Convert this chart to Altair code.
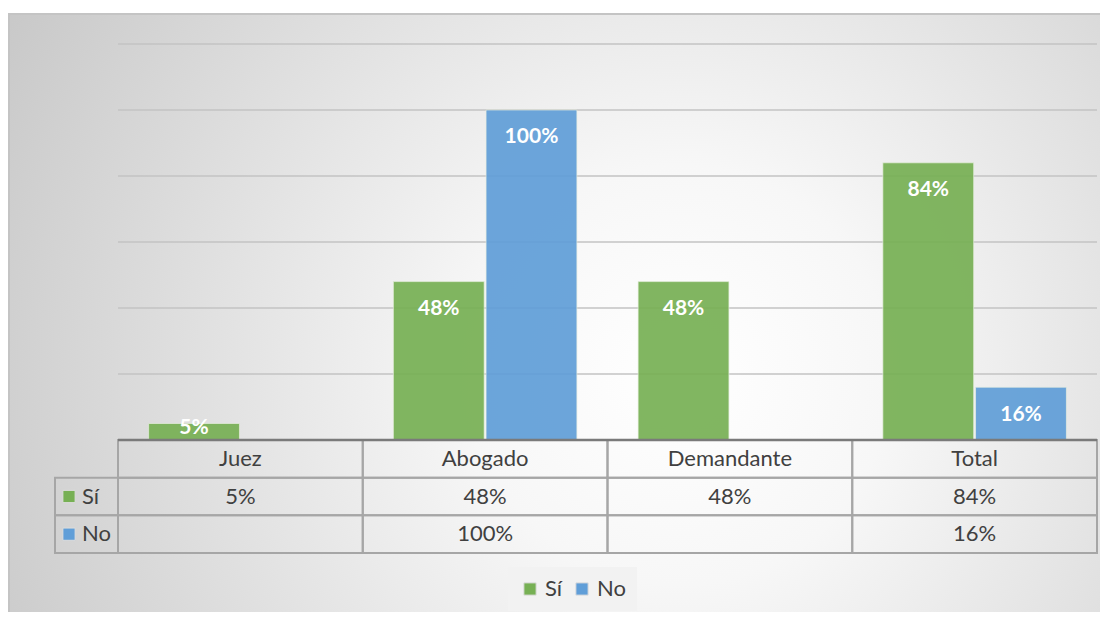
import altair as alt
import pandas as pd

# ---- data ----
categories = ["Juez", "Abogado", "Demandante", "Total"]
si_values = [0.05, 0.48, 0.48, 0.84]
no_values = [None, 1.00, None, 0.16]
series = ["Sí", "No"]
colors = ["#77B054", "#609ED8"]
grid_values = [0.2, 0.4, 0.6, 0.8, 1.0, 1.2]

W, H = 979, 509
FONT = "Lato"

rows = []
for c, s, n in zip(categories, si_values, no_values):
    if s is not None:
        rows.append({"cat": c, "series": "Sí", "value": s})
    if n is not None:
        rows.append({"cat": c, "series": "No", "value": n})
bars_df = pd.DataFrame(rows)

def pct(v):
    return "" if v is None else f"{round(v * 100)}%"

table_rows = []
for c, s, n in zip(categories, si_values, no_values):
    table_rows.append({"cat": c, "row": "h", "text": c})
    table_rows.append({"cat": c, "row": "Sí", "text": pct(s)})
    table_rows.append({"cat": c, "row": "No", "text": pct(n)})
table_df = pd.DataFrame(table_rows)
legend_col_df = pd.DataFrame({"row": series, "series": series})
grid_df = pd.DataFrame({"g": grid_values})
base_df = pd.DataFrame({"g": [0.0]})
bg_df = pd.DataFrame({"a": [1]})

xscale = alt.Scale(domain=categories, paddingInner=0, paddingOuter=0)
yscale = alt.Scale(domain=[0, 1.2], range=[396, 0], nice=False, zero=True)
rowscale = alt.Scale(domain=["h", "Sí", "No"], range=[396, 509], paddingInner=0, paddingOuter=0)
cscale = alt.Scale(domain=series, range=colors)
offscale = alt.Scale(domain=series, paddingInner=0.02, paddingOuter=0.33)

# background with radial gradient
bg = alt.Chart(bg_df).mark_rect(
    fill=alt.Gradient(
        gradient="radial",
        stops=[alt.GradientStop(offset=0, color="#ffffff"),
               alt.GradientStop(offset=0.25, color="#f7f7f7"),
               alt.GradientStop(offset=1, color="#c2c2c2")],
        x1=0.6, y1=0.55, r1=0, x2=0.6, y2=0.55, r2=0.75,
    ),
    stroke="#c4c4c4", strokeWidth=2,
).encode(x=alt.value(-109), x2=alt.value(1010), y=alt.value(-30), y2=alt.value(580))

grid = alt.Chart(grid_df).mark_rule(color="#c3c3c3", strokeWidth=1.5).encode(
    y=alt.Y("g:Q", scale=yscale, axis=None),
    x=alt.value(0), x2=alt.value(W),
)

bars = alt.Chart(bars_df).mark_bar(opacity=0.92, stroke="#e8f0e0", strokeWidth=1, strokeOpacity=0.7).encode(
    x=alt.X("cat:N", scale=xscale, axis=None, sort=categories),
    xOffset=alt.XOffset("series:N", scale=offscale),
    y=alt.Y("value:Q", scale=yscale, axis=None),
    color=alt.Color("series:N", scale=cscale, legend=alt.Legend(
        orient="none", legendX=390, legendY=523, direction="horizontal", title=None,
        fillColor="#f2f2f2", padding=11, labelFontSize=22, labelFont=FONT, labelColor="#404040",
        symbolType="square", symbolSize=150, symbolStrokeColor="#dddddd", symbolStrokeWidth=1,
        columnPadding=8, labelOffset=4, symbolOpacity=1,
    )),
)

labels = alt.Chart(bars_df).transform_calculate(
    labely="max(datum.value - 0.083, 0.036)",
    label="round(datum.value * 100) + '%'",
).mark_text(color="white", fontWeight="bold", fontSize=21, font=FONT, baseline="middle").encode(
    x=alt.X("cat:N", scale=xscale, axis=None, sort=categories),
    xOffset=alt.XOffset("series:N", scale=offscale),
    y=alt.Y("labely:Q", scale=yscale, axis=None),
    text="label:N",
)

baseline = alt.Chart(base_df).mark_rule(color="#7a7a7a", strokeWidth=2.5).encode(
    y=alt.Y("g:Q", scale=yscale, axis=None),
    x=alt.value(0), x2=alt.value(W),
)

chart_part = alt.layer(grid, bars, labels)

cells = alt.Chart(table_df).mark_rect(fill="#ffffff", fillOpacity=0, stroke="#a6a6a6", strokeWidth=2).encode(
    x=alt.X("cat:N", scale=xscale, axis=None, sort=categories),
    y=alt.Y("row:N", scale=rowscale, axis=None),
)
cell_text = alt.Chart(table_df).mark_text(fontSize=22, font=FONT, color="#404040", baseline="middle").encode(
    x=alt.X("cat:N", scale=xscale, axis=None, sort=categories),
    y=alt.Y("row:N", scale=rowscale, axis=None),
    text="text:N",
)
leg_cells = alt.Chart(legend_col_df).mark_rect(fill="#ffffff", fillOpacity=0, stroke="#a6a6a6", strokeWidth=2).encode(
    x=alt.value(-63), x2=alt.value(0),
    y=alt.Y("row:N", scale=rowscale, axis=None),
)
leg_sq = alt.Chart(legend_col_df).mark_square(size=150, opacity=1, stroke="#dddddd", strokeWidth=1).encode(
    x=alt.value(-49),
    y=alt.Y("row:N", scale=rowscale, axis=None),
    color=alt.Color("series:N", scale=cscale, legend=None),
)
leg_txt = alt.Chart(legend_col_df).mark_text(fontSize=22, font=FONT, color="#404040", align="left", baseline="middle").encode(
    x=alt.value(-36),
    y=alt.Y("row:N", scale=rowscale, axis=None),
    text="row:N",
)
table_part = alt.layer(cells, cell_text, leg_cells, leg_sq, leg_txt)

chart = alt.layer(bg, chart_part, table_part, baseline).resolve_scale(y="independent").properties(
    width=W, height=H,
    autosize=alt.AutoSizeParams(type="none"),
    padding={"left": 110, "top": 36, "right": 3, "bottom": 59},
).configure_view(stroke=None).configure(background="#ffffff")

chart.save("out.html", embed_options={"renderer": "svg", "actions": False})
